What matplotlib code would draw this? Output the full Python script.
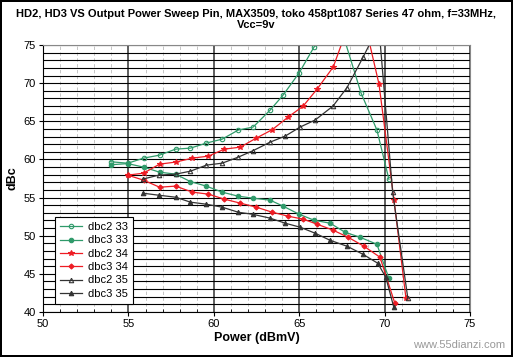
import numpy as np
import matplotlib
matplotlib.use("Agg")
import matplotlib.pyplot as plt
from matplotlib.ticker import MultipleLocator

plt.rcParams['font.family'] = ['Liberation Sans', 'DejaVu Sans']

# -- Data (x = output power dBmV, y = dBc) --
x_dbc2_33 = [53.96, 54.96, 55.89, 56.82, 57.76, 58.63, 59.56, 60.49, 61.43, 62.30,
             63.30, 64.06, 64.99, 65.87, 66.81, 67.68, 68.62, 69.55, 70.25]
y_dbc2_33 = [59.7, 59.5, 60.17, 60.56, 61.35, 61.48, 62.14, 62.66, 63.85, 64.24,
             66.47, 68.44, 71.33, 74.74, 76.5, 75.5, 68.7, 63.85, 57.4]

x_dbc3_33 = [53.96, 54.96, 55.89, 56.82, 57.76, 58.63, 59.56, 60.49, 61.43, 62.30,
             63.30, 64.06, 64.99, 65.87, 66.81, 67.68, 68.56, 69.55, 70.25]
y_dbc3_33 = [59.3, 59.45, 58.99, 58.33, 58.07, 57.09, 56.5, 55.71, 55.18, 54.92,
             54.66, 53.87, 52.82, 52.03, 51.64, 50.46, 49.8, 48.88, 44.42]

x_dbc2_34 = [54.96, 55.89, 56.82, 57.76, 58.75, 59.68, 60.62, 61.55, 62.49, 63.42,
             64.35, 65.23, 66.05, 66.99, 67.90, 68.80, 69.67, 70.55, 71.25]
y_dbc2_34 = [57.94, 58.2, 59.38, 59.65, 60.17, 60.43, 61.35, 61.61, 62.8, 63.9,
             65.55, 66.99, 69.23, 72.11, 77.7, 78.3, 69.88, 54.66, 41.8]

x_dbc3_34 = [54.96, 55.89, 56.82, 57.76, 58.75, 59.68, 60.62, 61.55, 62.49, 63.42,
             64.35, 65.23, 66.05, 66.99, 67.86, 68.79, 69.73, 70.60]
y_dbc3_34 = [57.94, 57.28, 56.36, 56.5, 55.71, 55.45, 54.79, 54.27, 53.74, 53.08,
             52.56, 52.17, 51.51, 50.72, 49.8, 48.62, 47.18, 41.14]

x_dbc2_35 = [55.83, 56.77, 57.76, 58.63, 59.56, 60.49, 61.43, 62.30, 63.30, 64.18,
             65.05, 65.93, 66.98, 67.80, 68.73, 69.66, 70.47, 71.36]
y_dbc2_35 = [57.41, 57.94, 58.07, 58.46, 59.25, 59.51, 60.3, 61.15, 62.27, 63.06,
             64.24, 65.16, 67.0, 69.42, 73.36, 77.5, 55.7, 41.8]

x_dbc3_35 = [55.83, 56.77, 57.76, 58.63, 59.56, 60.49, 61.43, 62.30, 63.30, 64.18,
             65.05, 65.93, 66.80, 67.80, 68.73, 69.60, 70.07, 70.54]
y_dbc3_35 = [55.58, 55.31, 55.05, 54.4, 54.13, 53.74, 53.08, 52.8, 52.3, 51.64,
             51.12, 50.33, 49.41, 48.62, 47.57, 46.39, 44.55, 40.6]

green = "#2f9a6a"
red = "#ee1c24"
dark = "#333333"

series = [
    ("dbc2 33", x_dbc2_33, y_dbc2_33, green, "o", "none", 3.2),
    ("dbc3 33", x_dbc3_33, y_dbc3_33, green, "o", green, 3.2),
    ("dbc2 34", x_dbc2_34, y_dbc2_34, red, "*", red, 4.0),
    ("dbc3 34", x_dbc3_34, y_dbc3_34, red, "D", red, 2.6),
    ("dbc2 35", x_dbc2_35, y_dbc2_35, dark, "^", "none", 3.2),
    ("dbc3 35", x_dbc3_35, y_dbc3_35, dark, "^", dark, 3.2),
]

fig = plt.figure(figsize=(5.13, 3.57), dpi=100)
fig.patch.set_edgecolor("black")
fig.patch.set_linewidth(1.5)
ax = fig.add_axes([0.0839, 0.126, 0.8323, 0.748])

for label, xs, ys, col, mk, mfc, ms in series:
    ax.plot(xs, ys, color=col, lw=0.9, marker=mk, ms=ms,
            mfc=mfc, mec=col, mew=0.8, label=label)

ax.set_xlim(50, 75)
ax.set_ylim(40, 75)
ax.xaxis.set_major_locator(MultipleLocator(5))
ax.xaxis.set_minor_locator(MultipleLocator(1))
ax.yaxis.set_major_locator(MultipleLocator(5))
ax.yaxis.set_minor_locator(MultipleLocator(1))

# grid: horizontal every 1 dB, vertical major solid, minor dashed
ax.grid(which="major", axis="x", color="#333333", lw=1.1)
ax.grid(which="minor", axis="x", color="#bbbbbb", lw=0.6, ls=(0, (4, 3)))
ax.grid(which="both", axis="y", color="black", lw=0.8)
ax.set_axisbelow(True)

ax.tick_params(which="major", length=3, labelsize=8, pad=2)
ax.tick_params(which="minor", axis="x", length=2, direction="in")
ax.tick_params(which="minor", axis="y", length=0)
for s in ax.spines.values():
    s.set_color("#888888")
ax.spines["left"].set_color("black")
ax.spines["bottom"].set_color("black")

ax.set_xlabel("Power (dBmV)", fontsize=9, fontweight="bold", labelpad=2)
ax.set_ylabel("dBc", fontsize=9, fontweight="bold", labelpad=4)
fig.suptitle("HD2, HD3 VS Output Power Sweep Pin, MAX3509, toko 458pt1087 Series 47 ohm, f=33MHz,\nVcc=9v",
             fontsize=8, fontweight="bold", y=0.975, linespacing=1.1)

leg = ax.legend(loc="lower left", bbox_to_anchor=(0.015, 0.01), fontsize=8,
                frameon=True, fancybox=False, edgecolor="black",
                handlelength=2.0, labelspacing=0.3, borderpad=0.45,
                handletextpad=0.5)
leg.get_frame().set_linewidth(0.8)
leg.get_frame().set_alpha(1)

fig.text(0.985, 0.02, "www.55dianzi.com", ha="right", va="bottom",
         fontsize=8, color="#999999")

fig.savefig("out.png", dpi=100)
